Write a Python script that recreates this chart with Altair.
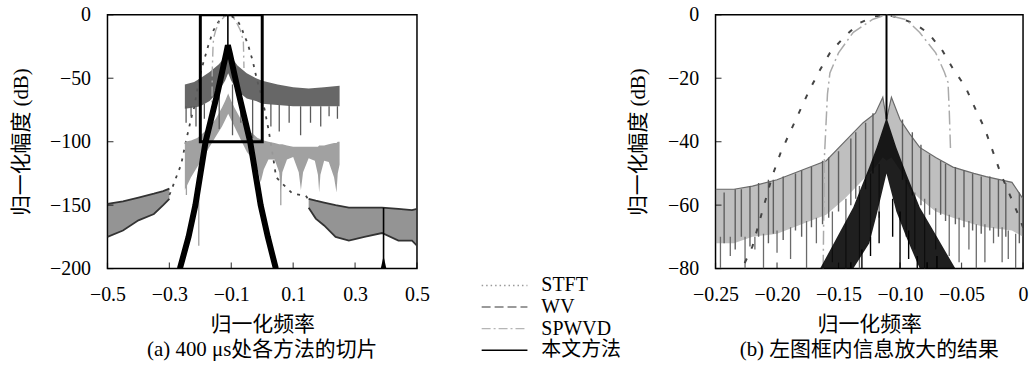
import altair as alt
import pandas as pd

FONT = "Liberation Serif, Noto Sans CJK SC"

# ---------------- shared curves ----------------
stft_x = [-0.30, -0.294, -0.278, -0.262, -0.245, -0.226, -0.220, -0.204, -0.197, -0.184, -0.174,
          -0.165, -0.157, -0.145, -0.133, -0.121, -0.11, -0.099, -0.088, -0.077, -0.066, -0.057,
          -0.047, -0.038, -0.031, -0.018, -0.005, 0.008, 0.02, 0.035, 0.045, 0.065, 0.098, 0.141, 0.15]
stft_y = [-142, -138.6, -128, -118, -98, -78, -73, -51, -43.4, -32.4, -24,
          -17.3, -12, -6.8, -2.6, -0.5, 0, -1.2, -2.8, -5.8, -11, -17,
          -22.6, -30.3, -36, -50.2, -62, -75, -90, -112, -128, -133, -141, -142.5, -146]

spwvd_x = [-0.1625, -0.162, -0.1615, -0.159, -0.157, -0.15, -0.138, -0.122, -0.111,
           -0.095, -0.084, -0.071, -0.064, -0.061, -0.060, -0.059]
spwvd_y = [-80, -62, -45, -25, -18.3, -12, -5.5, -1.4, 0,
           -1.5, -5.6, -12, -18, -21.3, -30, -42]

# ---------------- panel (a) ----------------
a_xticks = [-0.5, -0.3, -0.1, 0.1, 0.3, 0.5]
a_yticks = [0, -50, -100, -150, -200]

a_wv_x  = [-0.25, -0.22, -0.2, -0.17, -0.14, -0.12, -0.11, -0.10, -0.08, -0.05, -0.02, 0.0, 0.05, 0.1, 0.15, 0.2, 0.25]
a_wv_hi = [-55, -53, -50, -45, -39, -33, -28, -33, -40, -46, -50, -52, -55, -57, -58, -57, -56]
a_wv_lo = [-74, -73, -72, -68, -60, -52, -46, -52, -60, -66, -68, -70, -71, -72, -72, -72, -72]
a_wvs_x = [-0.246, -0.23, -0.214, -0.187, -0.139, -0.096, -0.069, -0.031, 0.0, 0.028, 0.055, 0.087, 0.124, 0.156, 0.189, 0.216, 0.243]
a_wvs_t = [-72, -72, -72, -70, -62, -55, -60, -67, -70, -70, -71, -71, -72, -72, -72, -72, -72]
a_wvs_b = [-85, -80, -88, -82, -90, -95, -85, -97, -90, -88, -92, -85, -95, -85, -88, -80, -82]

a_sp_x  = [-0.25, -0.23, -0.21, -0.19, -0.17, -0.15, -0.13, -0.12, -0.11, -0.10, -0.09, -0.07, -0.05, -0.03,
           -0.015, -0.005, 0.005, 0.02, 0.04, 0.055, 0.06, 0.065, 0.08, 0.1, 0.118, 0.125, 0.132, 0.15,
           0.17, 0.18, 0.184, 0.188, 0.2, 0.215, 0.232, 0.24, 0.244, 0.25]
a_sp_hi = [-100, -99, -97, -93, -88, -82, -73, -68, -62, -68, -73, -82, -90, -94,
           -97, -98, -99, -100, -101, -102, -102, -102, -103, -104, -104, -104, -104, -104,
           -104, -104, -103, -103, -103, -102, -101, -101, -100, -100]
a_sp_lo = [-138, -128, -120, -112, -104, -96, -88, -83, -78, -83, -88, -98, -108, -114,
           -122, -132, -122, -114, -114, -124, -140, -124, -114, -112, -124, -138, -124, -113,
           -115, -126, -140, -126, -115, -116, -128, -140, -125, -118]
a_lg_x = [-0.245, -0.205, 0.06]
a_lg_t = [-100, -122, -115]
a_lg_b = [-142, -182, -150]

a_stl_x  = [-0.5, -0.45, -0.4, -0.35, -0.32, -0.3]
a_stl_hi = [-149, -147, -144, -141, -139, -137]
a_stl_lo = [-175, -170, -162, -157, -150, -145]
a_str_x  = [0.15, 0.173, 0.2, 0.237, 0.28, 0.33, 0.387, 0.44, 0.484, 0.5]
a_str_hi = [-145, -146.5, -148, -150, -152, -152, -152, -153, -154, -153]
a_str_lo = [-152, -160.6, -166, -175, -178, -175, -172, -178, -178, -182]

a_bk_x = [-0.266, -0.238, -0.216, -0.183, -0.143, -0.116, -0.111, -0.105, -0.078, -0.039, -0.005, 0.018, 0.044]
a_bk_y = [-200, -175, -150, -100, -60, -30, -24, -30, -60, -100, -150, -175, -200]
a_pk_x = [-0.111, 0.392]
a_pk_t = [0, -152]
a_pk_b = [-26, -200]
a_tri_x = [0.383, 0.392, 0.401]
a_tri_y = [-200, -190, -200]
a_box = {"x": [-0.2], "x2": [0.0], "y": [0], "y2": [-100]}

# ---------------- panel (b) ----------------
b_xticks = [-0.25, -0.2, -0.15, -0.1, -0.05, 0]
b_yticks = [0, -20, -40, -60, -80]

b_wv_x  = [-0.25, -0.235, -0.22, -0.2, -0.18, -0.16, -0.145, -0.13, -0.12, -0.114, -0.111, -0.107, -0.1,
           -0.092, -0.084, -0.071, -0.057, -0.04, -0.03, -0.009, 0.0]
b_wv_hi = [-55, -55, -54, -52, -49, -46, -40, -34, -31, -26, -33, -26, -33,
           -37.6, -41.8, -45, -48, -50, -51, -52.8, -58]
b_wv_lo = [-72, -72, -70, -69, -66, -63, -58, -52, -48, -45, -46, -45, -49,
           -55, -58, -62, -64, -66, -67, -68, -70]
b_wvs_x = [-0.246, -0.238, -0.226, -0.218, -0.211, -0.2, -0.189, -0.176, -0.168, -0.155, -0.144, -0.133, -0.124,
           -0.117, -0.095, -0.088, -0.080, -0.071, -0.060, -0.052, -0.044, -0.038, -0.031, -0.024, -0.017, -0.012, -0.006]
b_wvs_t = [-70, -70, -70, -70, -69, -68, -67, -65, -64, -62, -58, -54, -50,
           -47, -52, -56, -58, -61, -63, -64, -65, -66, -66, -67, -67, -68, -69]
b_wvs_b = [-80, -76, -80, -74, -80, -75, -77, -80, -72, -78, -80, -80, -70,
           -64, -70, -74, -80, -74, -76, -78, -74, -80, -78, -72, -78, -77, -80]
# visible oscillation strokes inside the WV band
b_wvm_x = [-0.243, -0.234, -0.229, -0.222, -0.215, -0.207, -0.203, -0.195, -0.185, -0.180, -0.172, -0.163,
           -0.158, -0.150, -0.140, -0.136, -0.128, -0.122, -0.098, -0.090, -0.083, -0.076, -0.067, -0.063,
           -0.055, -0.048, -0.041, -0.034, -0.027, -0.020, -0.014, -0.003]
b_wvm_t = [-56, -55, -55, -54, -53, -52, -52, -51, -50, -49, -48, -46,
           -45, -43, -39, -37, -34, -31, -33, -37, -41, -44, -46, -47,
           -48, -49, -50, -51, -51, -52, -53, -56]
b_wvm_b = [-72, -74, -70, -73, -70, -72, -69, -71, -68, -70, -67, -66,
           -64, -62, -60, -58, -55, -50, -52, -57, -60, -63, -63, -65,
           -66, -67, -68, -69, -68, -70, -70, -72]

b_bk_x  = [-0.165, -0.138, -0.125, -0.119, -0.111, -0.103, -0.095, -0.084, -0.070, -0.055]
b_bk_hi = [-80, -60.7, -48, -41.8, -32.4, -41.8, -50, -60.7, -70, -80]
b_bk_lo = [-80, -80, -72, -63, -50, -62, -70, -80, -80, -80]
b_bks_x = [-0.140, -0.131, -0.124, -0.117, -0.106, -0.100, -0.093, -0.086, -0.078, -0.070]
b_bks_t = [-78, -74, -70, -62, -58, -62, -68, -76, -78, -76]
b_bks_b = [-80, -80, -76, -72, -70, -80, -77, -80, -80, -80]
b_pk_x = [-0.111]
b_pk_t = [0]
b_pk_b = [-33]

# ---------------- legend ----------------
leg_names = ["STFT", "WV", "SPWVD", "本文方法"]
leg_colors = ["#9a9a9a", "#7a7a7a", "#b5b5b5", "#000000"]
leg_dash = [[1.5, 3], [9, 4], [9, 3, 2, 3], [1, 0]]


def axis(values, title, lpad, tpad, fmt=None, expr=None):
    kw = dict(values=values, title=title, domain=False, ticks=False, grid=False,
              labelFont=FONT, labelFontSize=20, labelColor="black", labelPadding=lpad,
              labelFlush=False, labelOverlap=False,
              titleFont=FONT, titleFontSize=21, titleFontWeight="normal", titleColor="black",
              titlePadding=tpad)
    if fmt:
        kw["format"] = fmt
    if expr:
        kw["labelExpr"] = expr
    return alt.Axis(**kw)


def panel(xdom, ydom, xticks, yticks, xax, yax, caption, w, h, layers_spec):
    xs = alt.Scale(domain=xdom, nice=False, zero=False)
    ys = alt.Scale(domain=ydom, nice=False, zero=False)
    X = alt.X("x:Q", scale=xs, axis=xax)
    Y = alt.Y("y:Q", scale=ys, axis=yax)
    layers = []
    for kind, d, style in layers_spec:
        df = pd.DataFrame(d)
        if kind == "area":
            layers.append(alt.Chart(df).mark_area(clip=True, **style).encode(x=X, y=Y, y2="y2:Q"))
        elif kind == "line":
            layers.append(alt.Chart(df).mark_line(clip=True, **style).encode(x=X, y=Y))
        elif kind == "rule":
            layers.append(alt.Chart(df).mark_rule(clip=True, **style).encode(x=X, y=Y, y2="y2:Q"))
        elif kind == "rect":
            layers.append(alt.Chart(df).mark_rect(clip=True, **style).encode(x=X, x2="x2:Q", y=Y, y2="y2:Q"))
    # inward ticks
    layers.append(alt.Chart(pd.DataFrame({"y": yticks})).mark_tick(orient="horizontal", size=6, thickness=1.2, color="black")
                  .encode(y=Y, x=alt.value(3)))
    layers.append(alt.Chart(pd.DataFrame({"x": xticks})).mark_tick(orient="vertical", size=6, thickness=1.2, color="black")
                  .encode(x=X, y=alt.value(h - 3)))
    return alt.layer(*layers).properties(
        width=w, height=h,
        title=alt.TitleParams(text=caption, orient="bottom", font=FONT, fontSize=21, fontWeight="normal",
                              color="black", offset=5, anchor="middle"))


def z(xs, ys, y2s=None):
    d = {"x": xs, "y": ys}
    if y2s is not None:
        d["y2"] = y2s
    return d


left = panel(
    [-0.5, 0.5], [-200, 0], a_xticks, a_yticks,
    axis(a_xticks, "归一化频率", 16, 9, fmt=".1f"),
    axis(a_yticks, "归一化幅度 (dB)", 17, 18),
    "(a) 400 μs处各方法的切片", 311, 255,
    [
        ("area", z(a_stl_x, a_stl_hi, a_stl_lo), dict(color="#3c3c3c", opacity=0.55)),
        ("line", z(a_stl_x, a_stl_hi), dict(color="#333333", strokeWidth=1.8)),
        ("line", z(a_stl_x, a_stl_lo), dict(color="#333333", strokeWidth=1.8)),
        ("area", z(a_str_x, a_str_hi, a_str_lo), dict(color="#3c3c3c", opacity=0.55)),
        ("line", z(a_str_x, a_str_hi), dict(color="#333333", strokeWidth=1.8)),
        ("line", z(a_str_x, a_str_lo), dict(color="#333333", strokeWidth=1.8)),
        ("line", z(stft_x, stft_y), dict(color="#444444", strokeWidth=1.8, strokeDash=[3, 6])),
        ("area", z(a_sp_x, a_sp_hi, a_sp_lo), dict(color="#9c9c9c", opacity=0.95)),
        ("rule", z(a_lg_x, a_lg_t, a_lg_b), dict(color="#a0a0a0", strokeWidth=1.3)),
        ("area", z(a_wv_x, a_wv_hi, a_wv_lo), dict(color="#5a5a5a", opacity=0.92)),
        ("rule", z(a_wvs_x, a_wvs_t, a_wvs_b), dict(color="#5a5a5a", strokeWidth=1.3)),
        ("line", z(spwvd_x, spwvd_y), dict(color="#aaaaaa", strokeWidth=1.4, strokeDash=[10, 4, 2, 4])),
        ("line", z(a_bk_x, a_bk_y), dict(color="black", strokeWidth=6)),
        ("rule", z(a_pk_x, a_pk_t, a_pk_b), dict(color="black", strokeWidth=1.6)),
        ("area", z(a_tri_x, a_tri_y, [-200, -200, -200]), dict(color="black")),
        ("rect", a_box, dict(fillOpacity=0, stroke="black", strokeWidth=3)),
    ])

right = panel(
    [-0.25, 0], [-80, 0], b_xticks, b_yticks,
    axis(b_xticks, "归一化频率", 16, 9, expr="datum.value == 0 ? '0' : format(datum.value, '.2f')"),
    axis(b_yticks, "归一化幅度 (dB)", 17, 19),
    "(b) 左图框内信息放大的结果", 309, 255,
    [
        ("area", z(b_wv_x, b_wv_hi, b_wv_lo), dict(color="#707070", opacity=0.45)),
        ("line", z(b_wv_x, b_wv_hi), dict(color="#6a6a6a", strokeWidth=1.2)),
        ("rule", z(b_wvm_x, b_wvm_t, b_wvm_b), dict(color="#5e5e5e", strokeWidth=1.4)),
        ("rule", z(b_wvs_x, b_wvs_t, b_wvs_b), dict(color="#6a6a6a", strokeWidth=1.3)),
        ("line", z(stft_x, stft_y), dict(color="#444444", strokeWidth=2, strokeDash=[5, 11])),
        ("line", z(spwvd_x, spwvd_y), dict(color="#aaaaaa", strokeWidth=1.5, strokeDash=[14, 4, 2, 4])),
        ("area", z(b_bk_x, b_bk_hi, b_bk_lo), dict(color="black", opacity=0.88)),
        ("rule", z(b_bks_x, b_bks_t, b_bks_b), dict(color="black", strokeWidth=1.4)),
        ("rule", z(b_pk_x, b_pk_t, b_pk_b), dict(color="black", strokeWidth=2)),
    ])

leg_df = pd.DataFrame({"name": leg_names})
yleg = alt.Y("name:N", scale=alt.Scale(type="point", domain=leg_names, range=[272, 337], padding=0), axis=None)
leg_rule = alt.Chart(leg_df).mark_rule(strokeWidth=1.5).encode(
    x=alt.value(51), x2=alt.value(97), y=yleg,
    color=alt.Color("name:N", scale=alt.Scale(domain=leg_names, range=leg_colors), legend=None),
    strokeDash=alt.StrokeDash("name:N", scale=alt.Scale(domain=leg_names, range=leg_dash), legend=None))
leg_text = alt.Chart(leg_df).mark_text(align="left", baseline="middle", font=FONT, fontSize=20, color="black").encode(
    x=alt.value(111), y=yleg, text="name:N")
legend = alt.layer(leg_rule, leg_text).properties(width=196, height=337, view=alt.ViewBackground(strokeOpacity=0))

chart = alt.hconcat(left, legend, right, spacing=0).properties(
    padding={"left": 9, "top": 3, "right": 2, "bottom": 2}
).configure_view(stroke="black", strokeWidth=1.5).resolve_scale(color="independent", strokeDash="independent")

chart.save("out.html", embed_options={"renderer": "svg", "actions": False})
